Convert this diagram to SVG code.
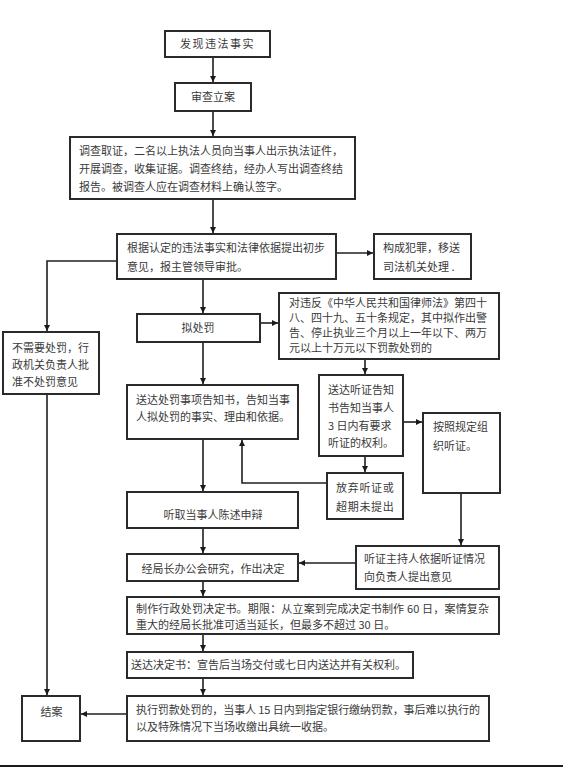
<svg xmlns="http://www.w3.org/2000/svg" width="563" height="768" viewBox="0 0 563 768">
<defs>
<marker id="ah" markerUnits="userSpaceOnUse" markerWidth="7" markerHeight="6" refX="6" refY="3" orient="auto">
<path d="M0,0 L6,3 L0,6 Z" fill="#1a1a1a"/>
</marker>
<style>
.b{fill:#fff;stroke:#2a2a2a;stroke-width:2}
.t{font-family:"Noto Sans CJK SC","Noto Sans",sans-serif;font-size:11px;fill:#3a3a3a}
.m{text-anchor:middle}
.c{fill:none;stroke:#1f1f1f;stroke-width:1.6}
.a{marker-end:url(#ah)}
</style>
</defs>
<rect width="563" height="768" fill="#fff"/>
<g id="connectors">
<path class="c a" d="M213,57 V82"/>
<path class="c a" d="M213,111 V136"/>
<path class="c a" d="M213,199 V233"/>
<path class="c a" d="M336,253 H373"/>
<path class="c a" d="M117,261 H47 V331"/>
<path class="c a" d="M203,279 V313"/>
<path class="c a" d="M260,323 H278"/>
<path class="c a" d="M365,359 V374"/>
<path class="c a" d="M203,342 V384"/>
<path class="c a" d="M403,422 H422"/>
<path class="c a" d="M365,456 V472"/>
<path class="c a" d="M327,483 H242 V440"/>
<path class="c a" d="M203,439 V491"/>
<path class="c a" d="M461,493 V545"/>
<path class="c a" d="M203,528 V553"/>
<path class="c a" d="M356,563 H299"/>
<path class="c a" d="M203,581 V596"/>
<path class="c a" d="M203,634 V651"/>
<path class="c a" d="M203,678 V695"/>
<path class="c a" d="M127,714 H81"/>
<path class="c a" d="M47,394 V695"/>
</g>
<g id="n1"><rect class="b" x="165" y="31" width="105" height="26"/><text class="t m" x="217.5" y="48" letter-spacing="1.5">发现违法事实</text></g>
<g id="n2"><rect class="b" x="175" y="83" width="76" height="28"/><text class="t m" x="213" y="101">审查立案</text></g>
<g id="n3"><rect class="b" x="70" y="137" width="285" height="62"/>
<text class="t" x="79" y="155">调查取证，二名以上执法人员向当事人出示执法证件，</text>
<text class="t" x="79" y="173">开展调查，收集证据。调查终结，经办人写出调查终结</text>
<text class="t" x="79" y="191">报告。被调查人应在调查材料上确认签字。</text></g>
<g id="n4"><rect class="b" x="117" y="234" width="219" height="45"/>
<text class="t" x="127" y="252">根据认定的违法事实和法律依据提出初步</text>
<text class="t" x="127" y="271">意见，报主管领导审批。</text></g>
<g id="n5"><rect class="b" x="374" y="234" width="97" height="45"/>
<text class="t" x="383" y="252">构成犯罪，移送</text>
<text class="t" x="383" y="271">司法机关处理 .</text></g>
<g id="n6"><rect class="b" x="3" y="332" width="96" height="62"/>
<text class="t" x="12" y="352">不需要处罚，行</text>
<text class="t" x="12" y="369">政机关负责人批</text>
<text class="t" x="12" y="386">准不处罚意见</text></g>
<g id="n7"><rect class="b" x="137" y="314" width="123" height="28"/><text class="t m" x="198" y="332">拟处罚</text></g>
<g id="n8"><rect class="b" x="279" y="293" width="220" height="66"/>
<text class="t" x="289" y="307">对违反《中华人民共和国律师法》第四十</text>
<text class="t" x="289" y="322">八、四十九、五十条规定，其中拟作出警</text>
<text class="t" x="289" y="337">告、停止执业三个月以上一年以下、两万</text>
<text class="t" x="289" y="352">元以上十万元以下罚款处罚的</text></g>
<g id="n9"><rect class="b" x="319" y="375" width="84" height="81"/>
<text class="t" x="328" y="394">送达听证告知</text>
<text class="t" x="328" y="412">书告知当事人</text>
<text class="t" x="328" y="430">3 日内有要求</text>
<text class="t" x="328" y="447">听证的权利。</text></g>
<g id="n10"><rect class="b" x="423" y="413" width="77" height="80"/>
<text class="t" x="433" y="431">按照规定组</text>
<text class="t" x="433" y="450">织听证。</text></g>
<g id="n11"><rect class="b" x="127" y="385" width="171" height="54"/>
<text class="t" x="136" y="404">送达处罚事项告知书，告知当事</text>
<text class="t" x="136" y="421">人拟处罚的事实、理由和依据。</text></g>
<g id="n13"><rect class="b" x="327" y="473" width="76" height="46"/>
<text class="t" x="336" y="492" letter-spacing="0.7">放弃听证或</text>
<text class="t" x="336" y="511" letter-spacing="0.7">超期未提出</text></g>
<g id="n12"><rect class="b" x="127" y="492" width="171" height="36"/><text class="t m" x="213" y="519">听取当事人陈述申辩</text></g>
<g id="n14"><rect class="b" x="356" y="546" width="143" height="43"/>
<text class="t" x="364" y="563">听证主持人依据听证情况</text>
<text class="t" x="364" y="581">向负责人提出意见</text></g>
<g id="n15"><rect class="b" x="127" y="554" width="171" height="27"/><text class="t m" x="213" y="573">经局长办公会研究，作出决定</text></g>
<g id="n16"><rect class="b" x="127" y="597" width="372" height="37"/>
<text class="t" x="136" y="613" textLength="353" lengthAdjust="spacing">制作行政处罚决定书。期限：从立案到完成决定书制作 60 日，案情复杂</text>
<text class="t" x="136" y="629">重大的经局长批准可适当延长，但最多不超过 30 日。</text></g>
<g id="n17"><rect class="b" x="127" y="652" width="286" height="26"/><text class="t" x="131" y="669">送达决定书：宣告后当场交付或七日内送达并有关权利。</text></g>
<g id="n18"><rect class="b" x="127" y="696" width="362" height="45"/>
<text class="t" x="136" y="714" textLength="344" lengthAdjust="spacing">执行罚款处罚的，当事人 15 日内到指定银行缴纳罚款，事后难以执行的</text>
<text class="t" x="136" y="731">以及特殊情况下当场收缴出具统一收据。</text></g>
<g id="n19"><rect class="b" x="22" y="696" width="58" height="45"/><text class="t m" x="51.5" y="716">结案</text></g>
<line x1="0" y1="766" x2="563" y2="766" stroke="#1a1a1a" stroke-width="2"/>
</svg>
